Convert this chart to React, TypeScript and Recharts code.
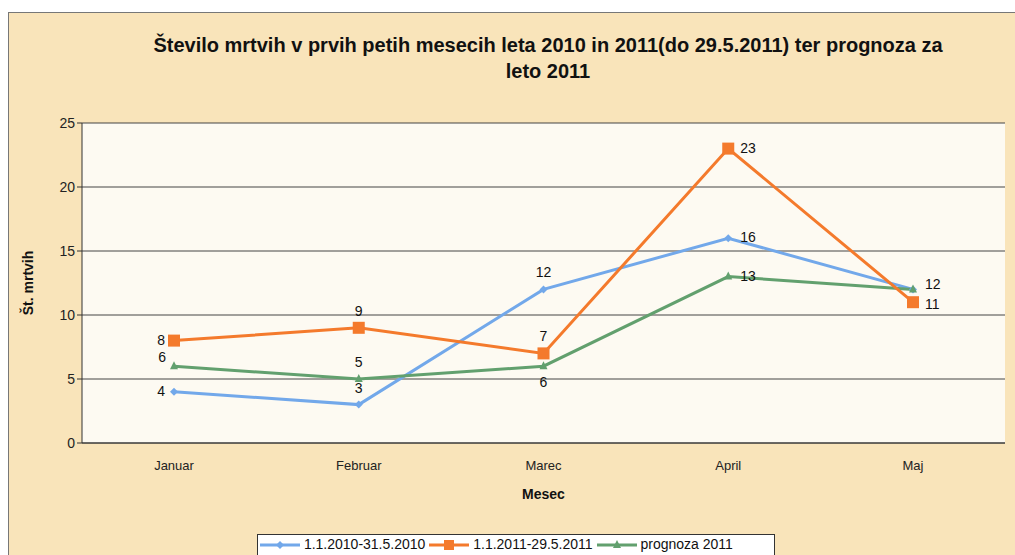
import React from 'react';
import {
  LineChart,
  Line,
  XAxis,
  YAxis,
  CartesianGrid,
  LabelList,
  Label,
} from 'recharts';

const months = ['Januar', 'Februar', 'Marec', 'April', 'Maj'];
const deaths2010 = [4, 3, 12, 16, 12];
const deaths2011 = [8, 9, 7, 23, 11];
const forecast2011 = [6, 5, 6, 13, 12];
const yTicks = [0, 5, 10, 15, 20, 25];

const seriesNames = ['1.1.2010-31.5.2010', '1.1.2011-29.5.2011', 'prognoza 2011'];

// where each point's value label goes
const labelPos2010 = ['left', 'top', 'top', 'right', 'rightUp'];
const labelPos2011 = ['left', 'top', 'top', 'right', 'rightDown'];
const labelPosForecast = ['topLeft', 'top', 'bottom', 'right', 'none'];

const BLUE = '#72a8ea';
const ORANGE = '#f47a2c';
const GREEN = '#62a06e';
const BG = '#f9e4ba';
const FONT = '"Liberation Sans", Arial, sans-serif';

const data = months.map((m, i) => ({
  month: m,
  a: deaths2010[i],
  b: deaths2011[i],
  c: forecast2011[i],
}));

const makeLabel = (positions: string[]) => (props: any) => {
  const { x, y, value, index } = props;
  const pos = positions[index];
  if (pos === 'none') return null;
  let tx = x;
  let ty = y;
  let anchor: 'start' | 'middle' | 'end' = 'middle';
  if (pos === 'left') { tx = x - 9; ty = y + 4; anchor = 'end'; }
  if (pos === 'topLeft') { tx = x - 8; ty = y - 4; anchor = 'end'; }
  if (pos === 'top') { ty = y - 12; }
  if (pos === 'bottom') { ty = y + 21; }
  if (pos === 'right') { tx = x + 12; ty = y + 4; anchor = 'start'; }
  if (pos === 'rightUp') { tx = x + 12; ty = y; anchor = 'start'; }
  if (pos === 'rightDown') { tx = x + 12; ty = y + 7; anchor = 'start'; }
  return (
    <text x={tx} y={ty} textAnchor={anchor} fontSize={14} fill="#111" fontFamily={FONT}>
      {value}
    </text>
  );
};

const Diamond = (props: any) => {
  const { cx, cy, fill } = props;
  return <path d={`M${cx},${cy - 4}L${cx + 4},${cy}L${cx},${cy + 4}L${cx - 4},${cy}Z`} fill={fill} />;
};

const Square = (props: any) => {
  const { cx, cy, fill } = props;
  return <rect x={cx - 6} y={cy - 6} width={12} height={12} fill={fill} />;
};

const Triangle = (props: any) => {
  const { cx, cy, fill } = props;
  return <path d={`M${cx},${cy - 5}L${cx + 4},${cy + 3}L${cx - 4},${cy + 3}Z`} fill={fill} />;
};

const LegendIcon = ({ color, shape }: { color: string; shape: string }) => (
  <svg width={40} height={14} style={{ verticalAlign: 'middle' }}>
    <line x1={0} y1={7} x2={40} y2={7} stroke={color} strokeWidth={3} />
    {shape === 'diamond' && <Diamond cx={20} cy={7} fill={color} />}
    {shape === 'square' && <rect x={15} y={2} width={10} height={10} fill={color} />}
    {shape === 'triangle' && <Triangle cx={20} cy={7} fill={color} />}
  </svg>
);

export default function App() {
  return (
    <div style={{ position: 'absolute', left: 0, top: 0, width: 1015, height: 555, background: '#fff', overflow: 'hidden' }}>
      <div
        style={{
          position: 'absolute',
          left: 8,
          top: 12,
          width: 1020,
          height: 560,
          background: BG,
          border: '1px solid #777',
        }}
      />
      <div
        style={{
          position: 'absolute',
          left: 0,
          top: 32,
          width: 1096,
          textAlign: 'center',
          fontFamily: FONT,
          fontWeight: 'bold',
          fontSize: 20,
          lineHeight: '26px',
          color: '#111',
        }}
      >
        Število mrtvih v prvih petih mesecih leta 2010 in 2011(do 29.5.2011) ter prognoza za
        <br />
        leto 2011
      </div>
      <div style={{ position: 'absolute', left: 0, top: 0 }}>
        <LineChart width={1015} height={555} data={data} margin={{ top: 123, right: 10, left: 0, bottom: 82 }}>
          <CartesianGrid vertical={false} stroke="#444" fill="#fdfaf2" />
          <XAxis
            dataKey="month"
            height={30}
            padding={{ left: 92, right: 92 }}
            tickLine={false}
            axisLine={{ stroke: '#333' }}
            tick={{ fontSize: 13, fill: '#222', fontFamily: FONT }}
            tickMargin={12}
          >
            <Label value="Mesec" position="insideBottom" offset={-26} style={{ fontSize: 14, fontWeight: 'bold', fill: '#111', fontFamily: FONT }} />
          </XAxis>
          <YAxis
            width={82}
            domain={[0, 25]}
            ticks={yTicks}
            interval={0}
            tickSize={5}
            tickLine={{ stroke: '#333' }}
            axisLine={{ stroke: '#333' }}
            tick={{ fontSize: 14, fill: '#222', fontFamily: FONT }}
          >
            <Label
              value="Št. mrtvih"
              angle={-90}
              position="insideLeft"
              offset={28}
              style={{ fontSize: 14, fontWeight: 'bold', fill: '#111', fontFamily: FONT, textAnchor: 'middle' }}
            />
          </YAxis>
          <Line
            type="linear"
            dataKey="a"
            name={seriesNames[0]}
            stroke={BLUE}
            strokeWidth={3}
            dot={<Diamond fill={BLUE} />}
            isAnimationActive={false}
          >
            <LabelList dataKey="a" content={makeLabel(labelPos2010)} />
          </Line>
          <Line
            type="linear"
            dataKey="c"
            name={seriesNames[2]}
            stroke={GREEN}
            strokeWidth={3}
            dot={<Triangle fill={GREEN} />}
            isAnimationActive={false}
          >
            <LabelList dataKey="c" content={makeLabel(labelPosForecast)} />
          </Line>
          <Line
            type="linear"
            dataKey="b"
            name={seriesNames[1]}
            stroke={ORANGE}
            strokeWidth={3}
            dot={<Square fill={ORANGE} />}
            isAnimationActive={false}
          >
            <LabelList dataKey="b" content={makeLabel(labelPos2011)} />
          </Line>
        </LineChart>
      </div>
      <div
        style={{
          position: 'absolute',
          left: 257,
          top: 534,
          width: 518,
          height: 30,
          background: '#fff',
          border: '1px solid #333',
          fontFamily: FONT,
          fontSize: 14,
          color: '#111',
          display: 'flex',
          alignItems: 'flex-start',
          paddingTop: 1,
          boxSizing: 'border-box',
          whiteSpace: 'nowrap',
        }}
      >
        <span style={{ marginLeft: 2 }}><LegendIcon color={BLUE} shape="diamond" /> {seriesNames[0]}</span>
        <span style={{ marginLeft: 4 }}><LegendIcon color={ORANGE} shape="square" /> {seriesNames[1]}</span>
        <span style={{ marginLeft: 4 }}><LegendIcon color={GREEN} shape="triangle" /> {seriesNames[2]}</span>
      </div>
    </div>
  );
}
